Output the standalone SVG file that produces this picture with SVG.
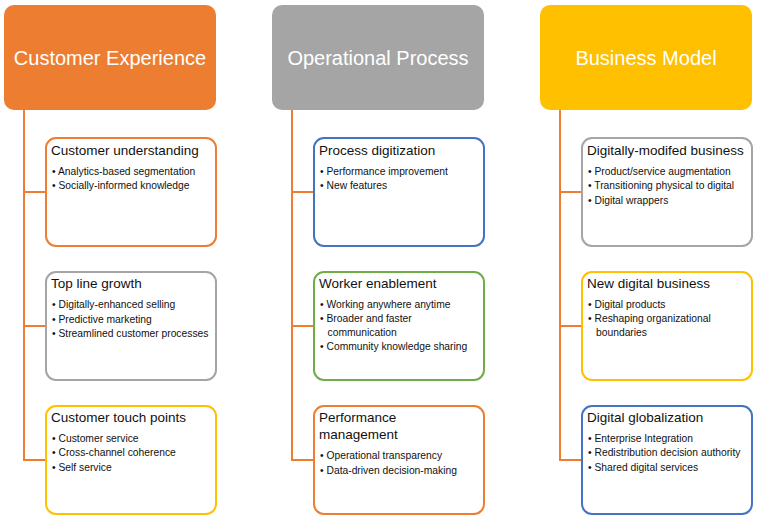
<svg xmlns="http://www.w3.org/2000/svg" width="760" height="523" viewBox="0 0 760 523">
<style>
.hdr{stroke:none}
.hdrt{font-family:"Liberation Sans",Arial,sans-serif;font-size:20px;fill:#ffffff;text-anchor:middle}
.box{fill:#ffffff;stroke-width:2}
.tt{font-family:"Liberation Sans",Arial,sans-serif;font-size:13.5px;fill:#111111}
.bl{font-family:"Liberation Sans",Arial,sans-serif;font-size:10.3px;fill:#111111}
.con{fill:none;stroke:#ED7D31;stroke-width:2}
</style>
<rect width="760" height="523" fill="#ffffff"/>
<g id="connectors">
<path class="con" d="M24,110 V461 M24,192 H46 M24,326 H46 M24,460 H46"/>
<path class="con" d="M292,110 V461 M292,192 H314 M292,326 H314 M292,460 H314"/>
<path class="con" d="M560,110 V461 M560,192 H582 M560,326 H582 M560,460 H582"/>
</g>
<g id="customer-experience">
<rect class="hdr" x="4" y="5" width="212" height="105" rx="10" fill="#ED7D31"/>
<text class="hdrt" x="110" y="65">Customer Experience</text>
</g>
<g id="operational-process">
<rect class="hdr" x="272" y="5" width="212" height="105" rx="10" fill="#A5A5A5"/>
<text class="hdrt" x="378" y="65">Operational Process</text>
</g>
<g id="business-model">
<rect class="hdr" x="540" y="5" width="212" height="105" rx="10" fill="#FFC000"/>
<text class="hdrt" x="646" y="65">Business Model</text>
</g>
<g id="customer-understanding">
<rect class="box" x="46" y="138" width="170" height="108" rx="10" stroke="#ED7D31"/>
<text class="tt" x="51" y="155">Customer understanding</text>
<text class="bl" x="52" y="175">• Analytics-based segmentation</text>
<text class="bl" x="52" y="189">• Socially-informed knowledge</text>
</g>
<g id="top-line-growth">
<rect class="box" x="46" y="272" width="170" height="108" rx="10" stroke="#A5A5A5"/>
<text class="tt" x="51" y="288">Top line growth</text>
<text class="bl" x="52" y="308">• Digitally-enhanced selling</text>
<text class="bl" x="52" y="322.5">• Predictive marketing</text>
<text class="bl" x="52" y="337">• Streamlined customer processes</text>
</g>
<g id="customer-touch-points">
<rect class="box" x="46" y="406" width="170" height="108" rx="10" stroke="#FFC000"/>
<text class="tt" x="51" y="422">Customer touch points</text>
<text class="bl" x="52" y="442">• Customer service</text>
<text class="bl" x="52" y="456">• Cross-channel coherence</text>
<text class="bl" x="52" y="471">• Self service</text>
</g>
<g id="process-digitization">
<rect class="box" x="314" y="138" width="170" height="108" rx="10" stroke="#4472C4"/>
<text class="tt" x="319" y="155">Process digitization</text>
<text class="bl" x="320" y="175">• Performance improvement</text>
<text class="bl" x="320" y="189">• New features</text>
</g>
<g id="worker-enablement">
<rect class="box" x="314" y="272" width="170" height="108" rx="10" stroke="#70AD47"/>
<text class="tt" x="319" y="288">Worker enablement</text>
<text class="bl" x="320" y="308">• Working anywhere anytime</text>
<text class="bl" x="320" y="322">• Broader and faster</text>
<text class="bl" x="327.5" y="335.5">communication</text>
<text class="bl" x="320" y="349.5">• Community knowledge sharing</text>
</g>
<g id="performance-management">
<rect class="box" x="314" y="406" width="170" height="108" rx="10" stroke="#ED7D31"/>
<text class="tt" x="319" y="422">Performance</text>
<text class="tt" x="319" y="439">management</text>
<text class="bl" x="320" y="459">• Operational transparency</text>
<text class="bl" x="320" y="473.5">• Data-driven decision-making</text>
</g>
<g id="digitally-modified-business">
<rect class="box" x="582" y="138" width="170" height="108" rx="10" stroke="#A5A5A5"/>
<text class="tt" x="587" y="155">Digitally-modifed business</text>
<text class="bl" x="588" y="175">• Product/service augmentation</text>
<text class="bl" x="588" y="189">• Transitioning physical to digital</text>
<text class="bl" x="588" y="204">• Digital wrappers</text>
</g>
<g id="new-digital-business">
<rect class="box" x="582" y="272" width="170" height="108" rx="10" stroke="#FFC000"/>
<text class="tt" x="587" y="288">New digital business</text>
<text class="bl" x="588" y="308">• Digital products</text>
<text class="bl" x="588" y="322">• Reshaping organizational</text>
<text class="bl" x="596" y="335.5">boundaries</text>
</g>
<g id="digital-globalization">
<rect class="box" x="582" y="406" width="170" height="108" rx="10" stroke="#4472C4"/>
<text class="tt" x="587" y="422">Digital globalization</text>
<text class="bl" x="588" y="442">• Enterprise Integration</text>
<text class="bl" x="588" y="456">• Redistribution decision authority</text>
<text class="bl" x="588" y="471">• Shared digital services</text>
</g>
</svg>
